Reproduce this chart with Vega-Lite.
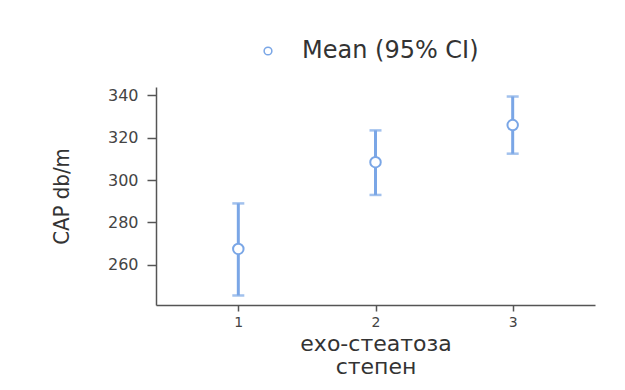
{
  "$schema": "https://vega.github.io/schema/vega-lite/v6.json",
  "width": 439,
  "height": 218,
  "autosize": "none",
  "padding": {"left": 156, "top": 87, "right": 30, "bottom": 85},
  "background": "white",
  "config": {"view": {"stroke": null}, "font": "DejaVu Sans"},
  "data": {"values": [
    {"grade": 1, "mean": 267.5, "lower": 245.5, "upper": 289, "series": "Mean (95% CI)"},
    {"grade": 2, "mean": 308.5, "lower": 293, "upper": 323.5, "series": "Mean (95% CI)"},
    {"grade": 3, "mean": 326, "lower": 312.5, "upper": 339.5, "series": "Mean (95% CI)"}
  ]},
  "encoding": {
    "x": {"field": "grade", "type": "quantitative",
      "scale": {"domain": [0.4, 3.6], "nice": false, "zero": false},
      "axis": {"values": [1, 2, 3], "format": "d", "grid": false, "tickSize": 6, "tickWidth": 1.5,
        "domainColor": "#555", "domainWidth": 1.5, "tickColor": "#555",
        "labelFontSize": 14, "labelColor": "#444", "labelPadding": 4,
        "title": ["ехо-стеатоза", "степен"], "titleFontSize": 22, "titleFontWeight": "normal",
        "titleColor": "#333", "titlePadding": 4, "titleLineHeight": 23}}
  },
  "layer": [
    {
      "mark": {"type": "rule", "color": "#7aa6e6", "strokeWidth": 3},
      "encoding": {
        "y": {"field": "lower", "type": "quantitative",
          "scale": {"domain": [241, 344], "nice": false, "zero": false},
          "axis": {"values": [260, 280, 300, 320, 340], "grid": false, "tickSize": 9, "tickWidth": 1.5,
            "domainColor": "#555", "domainWidth": 1.5, "tickColor": "#555",
            "labelFontSize": 16, "labelColor": "#444", "labelPadding": 9,
            "title": "CAP db/m", "titleFont": "DejaVu Sans Condensed, Liberation Sans, sans-serif", "titleFontSize": 22,
            "titleFontWeight": "normal", "titleColor": "#333", "titlePadding": 34}},
        "y2": {"field": "upper"}
      }
    },
    {
      "mark": {"type": "tick", "color": "#7aa6e6", "thickness": 2.5, "size": 12, "orient": "horizontal"},
      "encoding": {"y": {"field": "lower", "type": "quantitative"}}
    },
    {
      "mark": {"type": "tick", "color": "#7aa6e6", "thickness": 2.5, "size": 12, "orient": "horizontal"},
      "encoding": {"y": {"field": "upper", "type": "quantitative"}}
    },
    {
      "mark": {"type": "point", "filled": false, "fill": "white", "strokeWidth": 2, "size": 110, "opacity": 1},
      "encoding": {
        "y": {"field": "mean", "type": "quantitative"},
        "color": {"field": "series", "type": "nominal", "scale": {"range": ["#7aa6e6"]},
          "legend": {"orient": "none", "legendX": 100, "legendY": -48, "title": null,
            "labelFontSize": 24, "labelLimit": 400, "labelColor": "#333", "symbolSize": 60, "symbolStrokeWidth": 1.5,
            "labelOffset": 22}}
      }
    }
  ]
}
